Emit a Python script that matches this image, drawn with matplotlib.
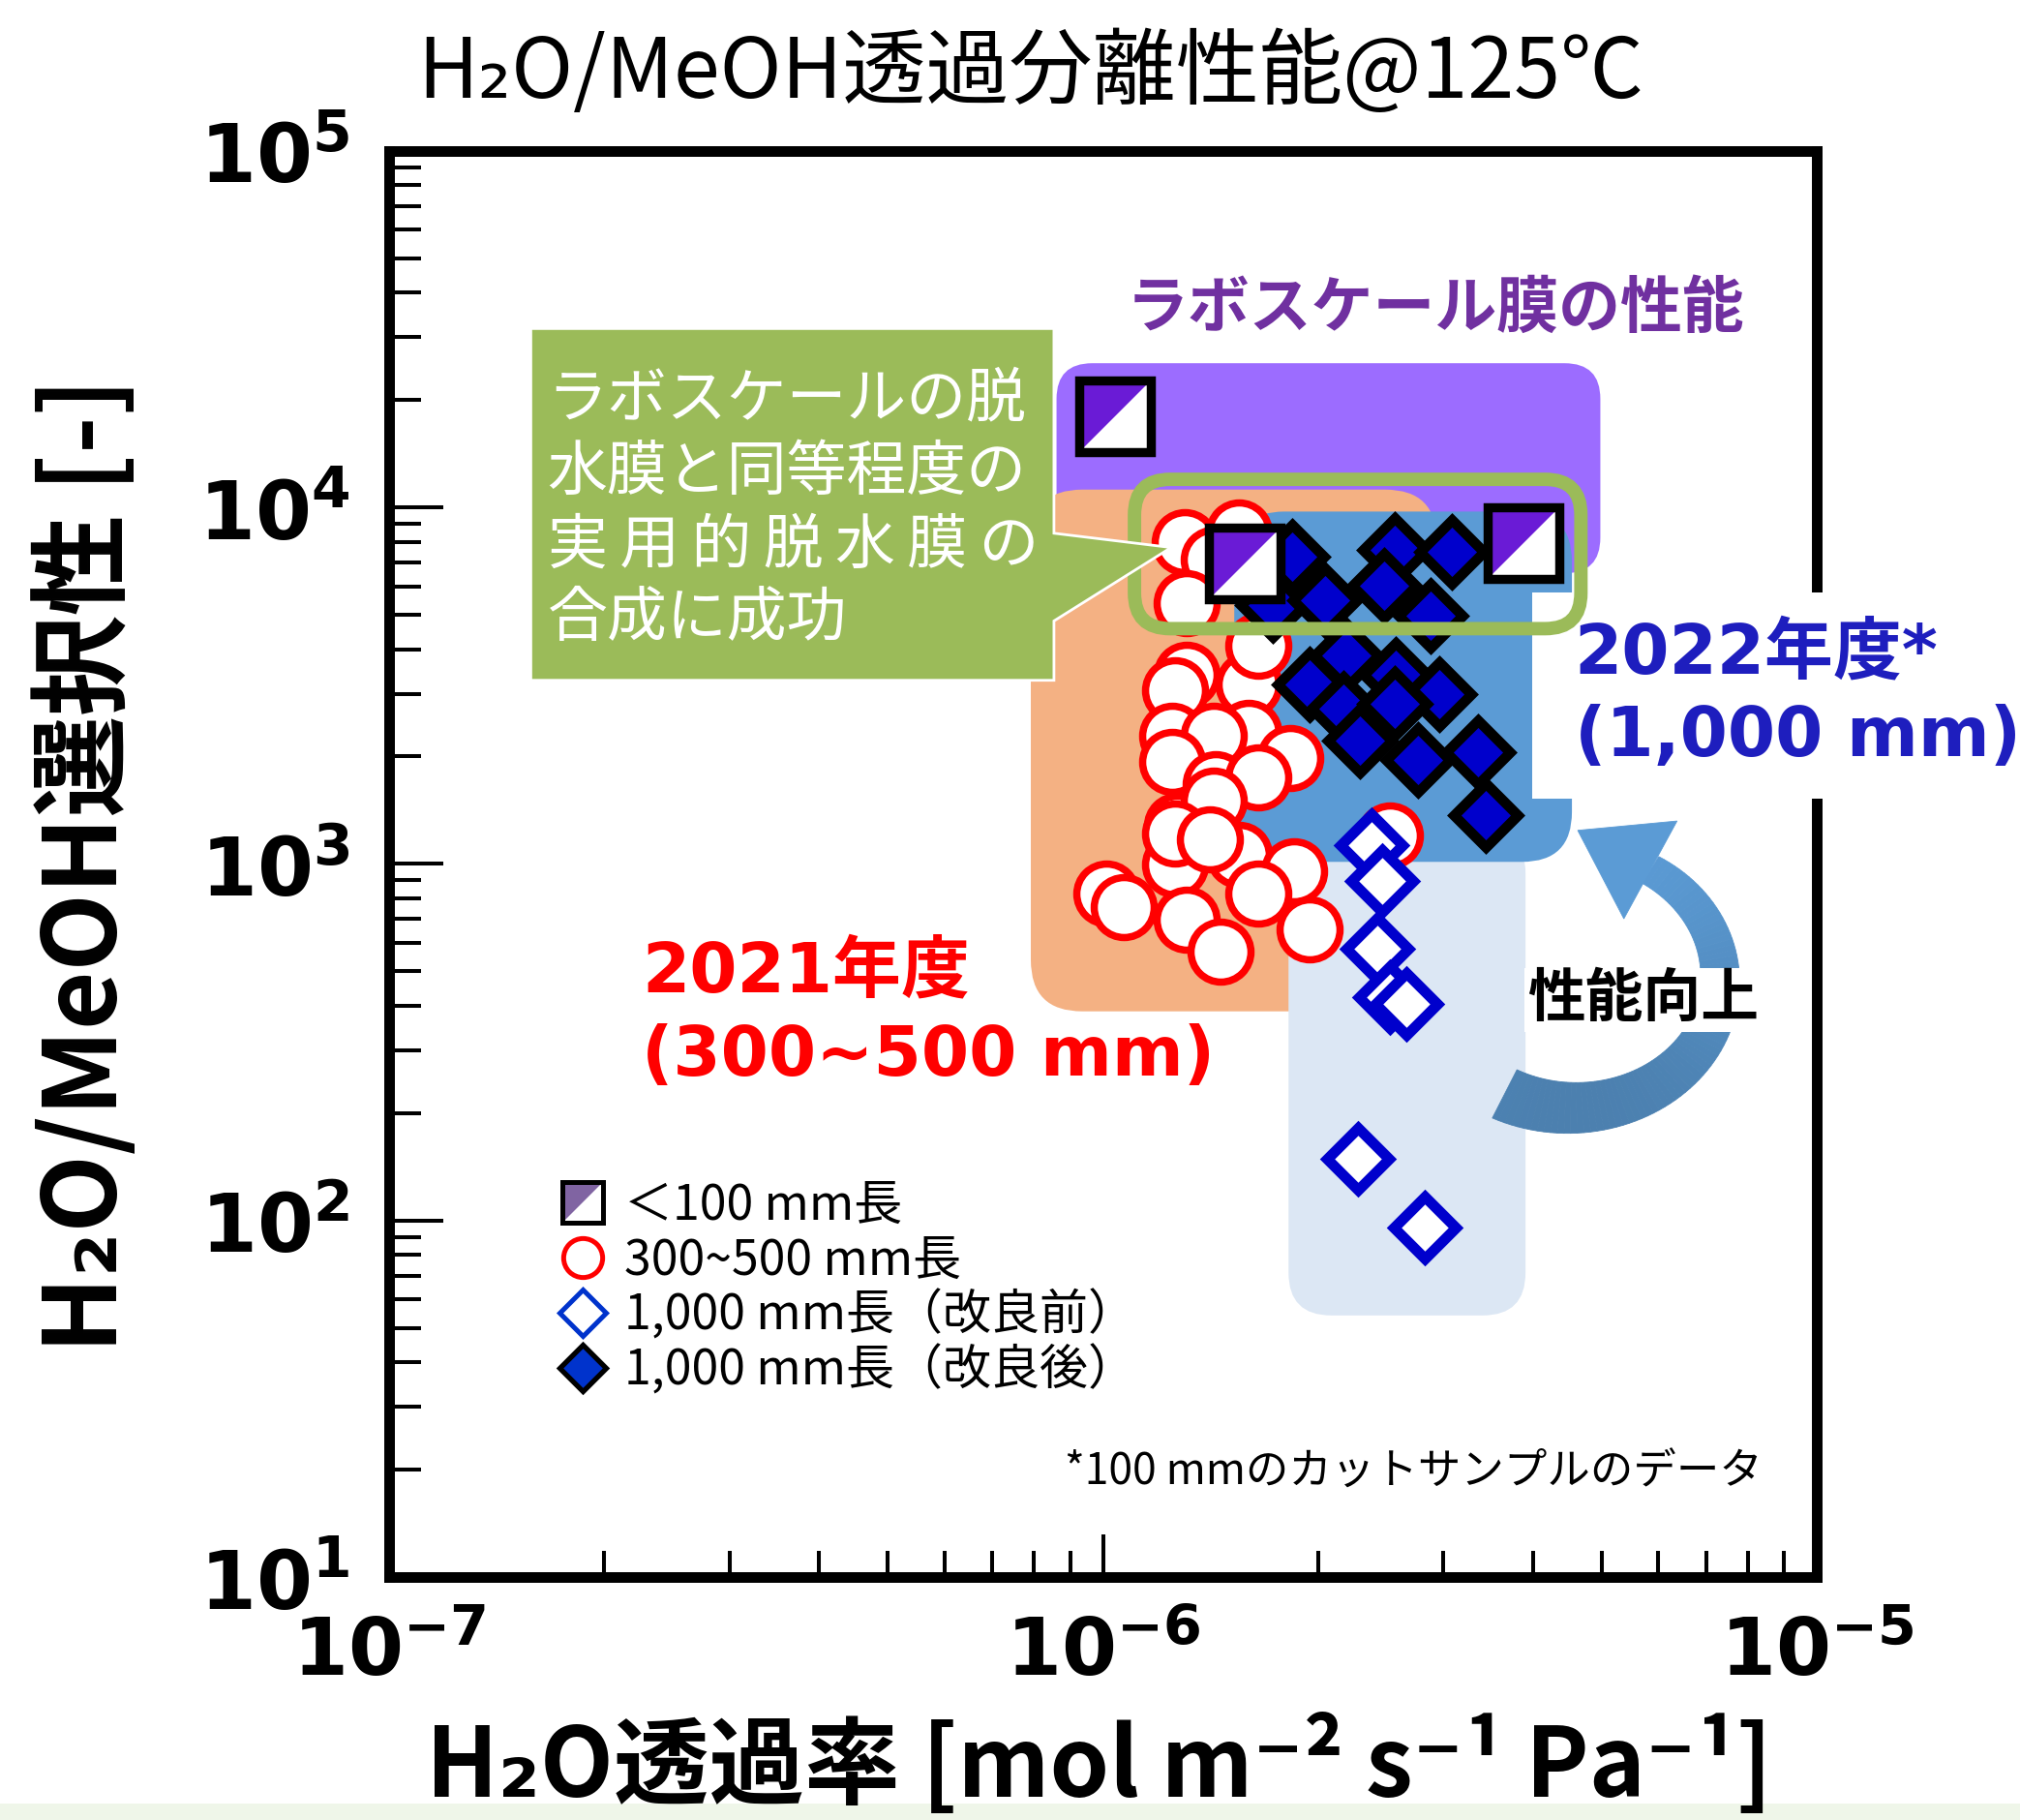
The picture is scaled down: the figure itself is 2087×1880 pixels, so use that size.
import numpy as np
import matplotlib.pyplot as plt
from matplotlib.patches import FancyBboxPatch, Rectangle, Polygon
from matplotlib.lines import Line2D
from matplotlib.path import Path
from matplotlib.legend_handler import HandlerTuple
from matplotlib.ticker import LogLocator, NullFormatter
from matplotlib.colors import to_rgb

JP = ['Noto Sans CJK JP', 'DejaVu Sans']
LATIN_JP = ['DejaVu Sans', 'Noto Sans CJK JP']
plt.rcParams['font.family'] = JP
plt.rcParams['mathtext.fontset'] = 'dejavusans'

# H2O permeance [mol m-2 s-1 Pa-1] / H2O-MeOH selectivity [-]
perm_lab = [1.04e-6, 1.58e-6, 3.88e-6]
sel_lab = [1.80e4, 6.98e3, 7.96e3]

perm_2021 = [1.30e-6, 1.43e-6, 1.55e-6, 1.31e-6, 1.31e-6, 1.26e-6, 1.60e-6, 1.65e-6,
             1.25e-6, 1.60e-6, 1.43e-6, 1.83e-6, 1.25e-6, 1.44e-6, 1.65e-6, 1.27e-6,
             1.43e-6, 1.55e-6, 1.85e-6, 1.26e-6, 1.01e-6, 1.07e-6, 1.31e-6, 1.46e-6,
             1.65e-6, 1.95e-6, 1.26e-6, 1.41e-6, 2.52e-6]
sel_2021 = [7990, 7140, 8500, 5390, 3390, 3070, 3190, 4090,
            2290, 2330, 2290, 1980, 1930, 1670, 1750, 1280,
            1500, 1060, 953, 995, 825, 756, 697, 567,
            825, 655, 1220, 1170, 1200]

perm_before = [2.38e-6, 2.46e-6, 2.42e-6, 2.52e-6, 2.66e-6, 2.28e-6, 2.82e-6]
sel_before = [1130, 895, 578, 423, 405, 149, 95.5]

perm_after = [1.84e-6, 1.73e-6, 2.05e-6, 2.56e-6, 3.08e-6, 2.48e-6, 2.88e-6, 2.19e-6, 1.95e-6,
              2.57e-6, 2.96e-6, 2.17e-6, 2.29e-6, 2.56e-6, 2.76e-6, 3.35e-6, 3.44e-6]
sel_after = [7270, 5320, 5490, 7600, 7500, 6030, 4960, 3840, 3190,
             3390, 2990, 2720, 2220, 2810, 1960, 2060, 1370]

legend_labels = ['＜100 mm長', '300~500 mm長', '1,000 mm長（改良前）', '1,000 mm長（改良後）']
x_ticks = [1e-7, 1e-6, 1e-5]
x_tick_labels = [r'$\mathbf{10^{-7}}$', r'$\mathbf{10^{-6}}$', r'$\mathbf{10^{-5}}$']
y_ticks = [1e1, 1e2, 1e3, 1e4, 1e5]
y_tick_labels = [r'$\mathbf{10^{1}}$', r'$\mathbf{10^{2}}$', r'$\mathbf{10^{3}}$',
                 r'$\mathbf{10^{4}}$', r'$\mathbf{10^{5}}$']
callout_lines = ['ラボスケールの脱', '水膜と同等程度の',
                 '実\u2009用\u2009的\u2009脱\u2009水\u2009膜\u2009の', '合成に成功']

fig = plt.figure(figsize=(20.87, 18.80), dpi=100)
fig.patch.set_facecolor('white')
fig.add_artist(Rectangle((0, 0), 1, 0.009, transform=fig.transFigure,
                         fc='#EFF6E9', ec='none', zorder=0))

ax = fig.add_axes([0.1926, 0.1335, 0.7068, 0.7837])
ax.set_xscale('log')
ax.set_yscale('log')
ax.set_xlim(1e-7, 1e-5)
ax.set_ylim(1e1, 1e5)

# shaded regions behind the data
def region(x, y, w, h, color, r, z):
    ax.add_patch(FancyBboxPatch((x, y), w, h, boxstyle=f'round,pad=0,rounding_size={r}',
                                transform=ax.transAxes, fc=color, ec='none', zorder=z))

region(0.4675, 0.7037, 0.3809, 0.1473, '#9C6CFF', 0.025, 1.0)
region(0.4495, 0.3966, 0.2843, 0.3658, '#F4B183', 0.036, 1.1)
region(0.6300, 0.1834, 0.1660, 0.3400, '#DCE7F4', 0.030, 1.2)
region(0.5920, 0.5014, 0.2365, 0.2456, '#5B9BD5', 0.035, 1.3)

# data
ax.plot(perm_2021, sel_2021, ls='none', marker='o', ms=44.6, mfc='white',
        mec='#FF0000', mew=5.4, zorder=5)
ax.plot(perm_before, sel_before, ls='none', marker='D', ms=33, mfc='white',
        mec='#0000CC', mew=7.9, zorder=5.2)
ax.plot(perm_after, sel_after, ls='none', marker='D', ms=33.8, mfc='#0000CC',
        mec='black', mew=7.6, zorder=5.4)

half = Path([(-1, -1), (-1, 1), (1, 1), (-1, -1)],
            [Path.MOVETO, Path.LINETO, Path.LINETO, Path.CLOSEPOLY])
ax.plot(perm_lab, sel_lab, ls='none', marker='s', ms=52.6, mfc='white', mew=0, zorder=5.6)
ax.plot(perm_lab, sel_lab, ls='none', marker=half, ms=52.6, mfc='#6A1BD6', mew=0, zorder=5.7)
ax.plot(perm_lab, sel_lab, ls='none', marker='s', ms=52.6, mfc='none', mec='black',
        mew=6.8, zorder=5.8)

# highlight around the best points
ax.add_patch(FancyBboxPatch((0.5221, 0.6649), 0.3127, 0.1047,
                            boxstyle='round,pad=0,rounding_size=0.025',
                            transform=ax.transAxes, fc='none', ec='#9BBB59', lw=10,
                            zorder=7, clip_on=False))

# callout
x0, x1, yb, yt = 0.0993, 0.4657, 0.6287, 0.8753
callout = Polygon([(x0, yt), (x1, yt), (x1, 0.7318), (0.5478, 0.7218), (x1, 0.6703),
                   (x1, yb), (x0, yb)], closed=True, transform=ax.transAxes,
                  fc='#9BBB59', ec='white', lw=2, zorder=8, clip_on=False)
ax.add_patch(callout)
for i, line in enumerate(callout_lines):
    ax.text(0.1110, 0.8257 - i * 0.0512, line, transform=ax.transAxes, ha='left',
            va='center', color='white', fontsize=44.6, zorder=9)

ax.text(0.7329, 0.8889, 'ラボスケール膜の性能', transform=ax.transAxes, ha='center',
        va='center', color='#7030A0', fontsize=46, fontweight='bold', zorder=9)

ax.text(0.1769, 0.4237, '2021年度', transform=ax.transAxes, ha='left', va='center',
        color='#FF0000', fontsize=51, fontweight='bold', family=LATIN_JP, zorder=9)
ax.text(0.1769, 0.3650, '(300~500 mm)', transform=ax.transAxes, ha='left', va='center',
        color='#FF0000', fontsize=51, fontweight='bold', family=LATIN_JP, zorder=9)

ax.add_patch(Rectangle((0.8007, 0.5458), 0.40, 0.1446, transform=ax.transAxes,
                       fc='white', ec='none', zorder=3, clip_on=False))
ax.text(0.8303, 0.6468, '2022年度*', transform=ax.transAxes, ha='left', va='center',
        color='#1E1EBE', fontsize=51, fontweight='bold', family=LATIN_JP, zorder=9)
ax.text(0.8303, 0.5890, '(1,000 mm)', transform=ax.transAxes, ha='left', va='center',
        color='#1E1EBE', fontsize=51, fontweight='bold', family=LATIN_JP, zorder=9)

# curved arrow
cx, cy, ea, eb = 0.8285, 0.4192, 0.1038, 0.0903
th = np.radians(np.linspace(-117, 58, 80))
wd = np.linspace(0.038, 0.022, th.size)
ox, oy = cx + (ea + wd / 2) * np.cos(th), cy + (eb + wd / 2) * np.sin(th)
ix, iy = cx + (ea - wd / 2) * np.cos(th), cy + (eb - wd / 2) * np.sin(th)
dark, light = np.array(to_rgb('#4A7DAB')), np.array(to_rgb('#5B9BD5'))
ymin, ymax = oy.min(), oy.max()
for k in range(th.size - 1):
    f = ((oy[k] + iy[k]) / 2 - ymin) / (ymax - ymin)
    c = dark + (light - dark) * f
    ax.add_patch(Polygon([(ox[k], oy[k]), (ox[k + 1], oy[k + 1]), (ix[k + 1], iy[k + 1]),
                          (ix[k], iy[k])], closed=True, transform=ax.transAxes,
                         fc=c, ec=c, lw=0.6, zorder=2))
tend = th[-1]
px, py = cx + ea * np.cos(tend), cy + eb * np.sin(tend)
tx, ty = -ea * np.sin(tend), eb * np.cos(tend)
tn = np.hypot(tx, ty)
tx, ty = tx / tn, ty / tn
nx, ny = ty, -tx
ax.add_patch(Polygon([(px + 0.039 * nx, py + 0.039 * ny), (px + 0.058 * tx, py + 0.058 * ty),
                      (px - 0.039 * nx, py - 0.039 * ny)], closed=True,
                     transform=ax.transAxes, fc=light, ec=light, lw=0.6, zorder=2))
ax.text(0.878, 0.4047, '性能向上', transform=ax.transAxes, ha='center', va='center',
        fontsize=43, fontweight='bold', color='black', zorder=9,
        bbox=dict(fc='white', ec='none', pad=2))

ax.text(0.962, 0.0732, '*100 mmのカットサンプルのデータ', transform=ax.transAxes,
        ha='right', va='center', fontsize=32, zorder=9)

# legend
sq_fill = Line2D([], [], ls='none', marker='s', ms=30, mfc='white', mew=0)
sq_half = Line2D([], [], ls='none', marker=half, ms=30, mfc='#8064A2', mew=0)
sq_edge = Line2D([], [], ls='none', marker='s', ms=30, mfc='none', mec='black', mew=3.6)
h_circ = Line2D([], [], ls='none', marker='o', ms=29, mfc='white', mec='#FF0000', mew=3.6)
h_open = Line2D([], [], ls='none', marker='D', ms=24, mfc='white', mec='#0033CC', mew=3.6)
h_fill = Line2D([], [], ls='none', marker='D', ms=24, mfc='#0033CC', mec='black', mew=3.8)
ax.legend([(sq_fill, sq_half, sq_edge), h_circ, h_open, h_fill], legend_labels,
          handler_map={tuple: HandlerTuple(ndivide=1)}, loc='upper left',
          bbox_to_anchor=(0.1186, 0.278), frameon=False, fontsize=36, numpoints=1,
          handlelength=1.0, handletextpad=0.36, labelspacing=0.1, borderpad=0,
          borderaxespad=0)

# axes frame and ticks
for s in ax.spines.values():
    s.set_linewidth(7.9)
    s.set_zorder(2.5)
ax.set_xticks(x_ticks, x_tick_labels, fontsize=59)
ax.set_yticks(y_ticks, y_tick_labels, fontsize=60)
ax.xaxis.set_minor_locator(LogLocator(base=10, subs=np.arange(2, 10), numticks=20))
ax.yaxis.set_minor_locator(LogLocator(base=10, subs=np.arange(2, 10), numticks=20))
ax.xaxis.set_minor_formatter(NullFormatter())
ax.yaxis.set_minor_formatter(NullFormatter())
ax.tick_params(axis='x', which='major', direction='in', length=32, width=2.9, pad=26, top=False)
ax.tick_params(axis='x', which='minor', direction='in', length=19.4, width=2.9, top=False)
ax.tick_params(axis='y', which='major', direction='in', length=40, width=2.9, pad=29, right=False)
ax.tick_params(axis='y', which='minor', direction='in', length=24, width=2.9, right=False)

fig.text(0.510, 0.959, 'H₂O/MeOH透過分離性能@125℃', ha='center', va='center', fontsize=62)
fig.text(0.0428, 0.5245, 'H₂O/MeOH選択性 [-]', rotation=90, ha='center', va='center',
         fontsize=75, fontweight='bold')
fig.text(0.5443, 0.013, 'H₂O透過率 [mol m⁻² s⁻¹ Pa⁻¹]', ha='center', va='baseline',
         fontsize=71, fontweight='bold')

fig.savefig('out.png', dpi=100, facecolor='white')
